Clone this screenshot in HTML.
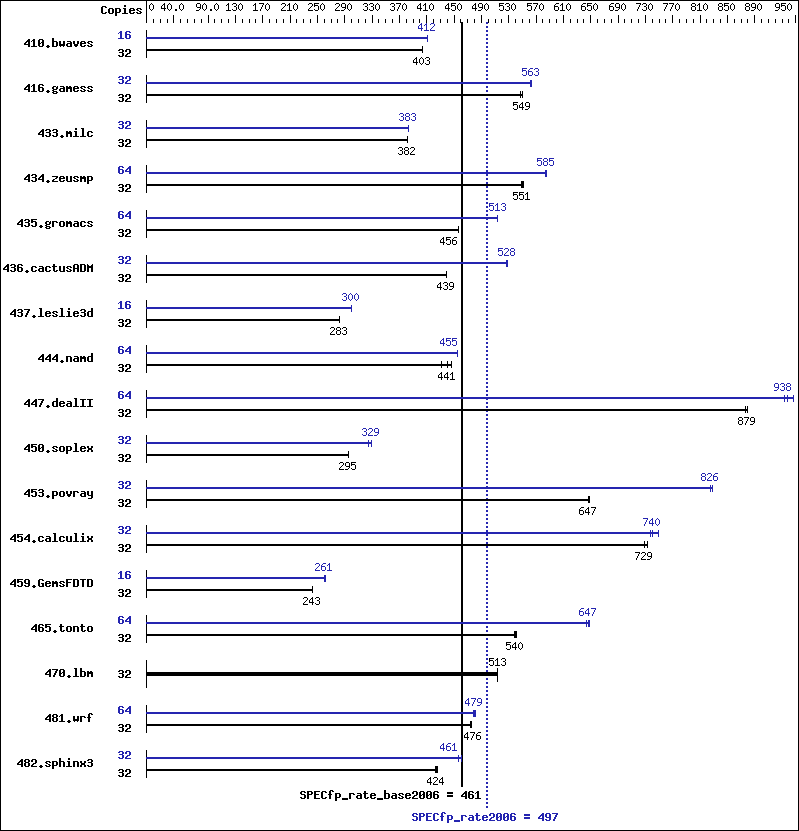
<!DOCTYPE html>
<html><head><meta charset="utf-8"><style>
html,body{margin:0;padding:0;background:#fff;width:799px;height:831px;overflow:hidden}
svg{display:block}
</style></head><body>
<svg width="799" height="831" viewBox="0 0 799 831" shape-rendering="crispEdges">
<defs>
<path id="b46" d="M2 9h2v1h-2zM1 10h4v1h-4zM2 11h2v1h-2z"/>
<path id="b48" d="M1 3h4v1h-4zM0 4h2v1h-2zM4 4h2v1h-2zM0 5h2v1h-2zM4 5h2v1h-2zM0 6h2v1h-2zM3 6h3v1h-3zM0 7h3v1h-3zM4 7h2v1h-2zM0 8h2v1h-2zM4 8h2v1h-2zM0 9h2v1h-2zM4 9h2v1h-2zM1 10h4v1h-4z"/>
<path id="b49" d="M2 3h2v1h-2zM1 4h3v1h-3zM0 5h1v1h-1zM2 5h2v1h-2zM2 6h2v1h-2zM2 7h2v1h-2zM2 8h2v1h-2zM2 9h2v1h-2zM0 10h6v1h-6z"/>
<path id="b50" d="M1 3h4v1h-4zM0 4h2v1h-2zM4 4h2v1h-2zM0 5h2v1h-2zM4 5h2v1h-2zM4 6h2v1h-2zM2 7h3v1h-3zM1 8h2v1h-2zM0 9h2v1h-2zM0 10h6v1h-6z"/>
<path id="b51" d="M1 3h4v1h-4zM0 4h2v1h-2zM4 4h2v1h-2zM4 5h2v1h-2zM1 6h4v1h-4zM4 7h2v1h-2zM4 8h2v1h-2zM0 9h2v1h-2zM4 9h2v1h-2zM1 10h4v1h-4z"/>
<path id="b52" d="M4 3h2v1h-2zM3 4h3v1h-3zM2 5h4v1h-4zM1 6h2v1h-2zM4 6h2v1h-2zM0 7h2v1h-2zM4 7h2v1h-2zM0 8h6v1h-6zM4 9h2v1h-2zM4 10h2v1h-2z"/>
<path id="b53" d="M0 3h6v1h-6zM0 4h2v1h-2zM0 5h5v1h-5zM0 6h2v1h-2zM4 6h2v1h-2zM4 7h2v1h-2zM4 8h2v1h-2zM0 9h2v1h-2zM4 9h2v1h-2zM1 10h4v1h-4z"/>
<path id="b54" d="M1 3h4v1h-4zM0 4h2v1h-2zM4 4h2v1h-2zM0 5h2v1h-2zM0 6h5v1h-5zM0 7h2v1h-2zM4 7h2v1h-2zM0 8h2v1h-2zM4 8h2v1h-2zM0 9h2v1h-2zM4 9h2v1h-2zM1 10h4v1h-4z"/>
<path id="b55" d="M0 3h6v1h-6zM4 4h2v1h-2zM3 5h2v1h-2zM3 6h2v1h-2zM2 7h2v1h-2zM2 8h2v1h-2zM1 9h2v1h-2zM1 10h2v1h-2z"/>
<path id="b56" d="M1 3h4v1h-4zM0 4h2v1h-2zM4 4h2v1h-2zM0 5h2v1h-2zM4 5h2v1h-2zM1 6h4v1h-4zM0 7h2v1h-2zM4 7h2v1h-2zM0 8h2v1h-2zM4 8h2v1h-2zM0 9h2v1h-2zM4 9h2v1h-2zM1 10h4v1h-4z"/>
<path id="b57" d="M1 3h4v1h-4zM0 4h2v1h-2zM4 4h2v1h-2zM0 5h2v1h-2zM4 5h2v1h-2zM0 6h2v1h-2zM4 6h2v1h-2zM1 7h5v1h-5zM4 8h2v1h-2zM0 9h2v1h-2zM4 9h2v1h-2zM1 10h4v1h-4z"/>
<path id="b61" d="M0 4h6v1h-6zM0 5h6v1h-6zM0 7h6v1h-6zM0 8h6v1h-6z"/>
<path id="b65" d="M1 3h4v1h-4zM0 4h2v1h-2zM4 4h2v1h-2zM0 5h2v1h-2zM4 5h2v1h-2zM0 6h2v1h-2zM4 6h2v1h-2zM0 7h6v1h-6zM0 8h2v1h-2zM4 8h2v1h-2zM0 9h2v1h-2zM4 9h2v1h-2zM0 10h2v1h-2zM4 10h2v1h-2z"/>
<path id="b67" d="M1 3h4v1h-4zM0 4h2v1h-2zM4 4h2v1h-2zM0 5h2v1h-2zM0 6h2v1h-2zM0 7h2v1h-2zM0 8h2v1h-2zM0 9h2v1h-2zM4 9h2v1h-2zM1 10h4v1h-4z"/>
<path id="b68" d="M0 3h5v1h-5zM0 4h2v1h-2zM4 4h2v1h-2zM0 5h2v1h-2zM4 5h2v1h-2zM0 6h2v1h-2zM4 6h2v1h-2zM0 7h2v1h-2zM4 7h2v1h-2zM0 8h2v1h-2zM4 8h2v1h-2zM0 9h2v1h-2zM4 9h2v1h-2zM0 10h5v1h-5z"/>
<path id="b69" d="M0 3h6v1h-6zM0 4h2v1h-2zM0 5h2v1h-2zM0 6h5v1h-5zM0 7h2v1h-2zM0 8h2v1h-2zM0 9h2v1h-2zM0 10h6v1h-6z"/>
<path id="b70" d="M0 3h6v1h-6zM0 4h2v1h-2zM0 5h2v1h-2zM0 6h5v1h-5zM0 7h2v1h-2zM0 8h2v1h-2zM0 9h2v1h-2zM0 10h2v1h-2z"/>
<path id="b71" d="M1 3h4v1h-4zM0 4h2v1h-2zM4 4h2v1h-2zM0 5h2v1h-2zM0 6h2v1h-2zM0 7h2v1h-2zM3 7h3v1h-3zM0 8h2v1h-2zM4 8h2v1h-2zM0 9h2v1h-2zM4 9h2v1h-2zM1 10h5v1h-5z"/>
<path id="b73" d="M0 3h6v1h-6zM2 4h2v1h-2zM2 5h2v1h-2zM2 6h2v1h-2zM2 7h2v1h-2zM2 8h2v1h-2zM2 9h2v1h-2zM0 10h6v1h-6z"/>
<path id="b77" d="M0 3h1v1h-1zM5 3h1v1h-1zM0 4h2v1h-2zM4 4h2v1h-2zM0 5h6v1h-6zM0 6h6v1h-6zM0 7h2v1h-2zM4 7h2v1h-2zM0 8h2v1h-2zM4 8h2v1h-2zM0 9h2v1h-2zM4 9h2v1h-2zM0 10h2v1h-2zM4 10h2v1h-2z"/>
<path id="b80" d="M0 3h5v1h-5zM0 4h2v1h-2zM4 4h2v1h-2zM0 5h2v1h-2zM4 5h2v1h-2zM0 6h5v1h-5zM0 7h2v1h-2zM0 8h2v1h-2zM0 9h2v1h-2zM0 10h2v1h-2z"/>
<path id="b83" d="M1 3h4v1h-4zM0 4h2v1h-2zM4 4h2v1h-2zM0 5h2v1h-2zM1 6h4v1h-4zM4 7h2v1h-2zM4 8h2v1h-2zM0 9h2v1h-2zM4 9h2v1h-2zM1 10h4v1h-4z"/>
<path id="b84" d="M0 3h6v1h-6zM2 4h2v1h-2zM2 5h2v1h-2zM2 6h2v1h-2zM2 7h2v1h-2zM2 8h2v1h-2zM2 9h2v1h-2zM2 10h2v1h-2z"/>
<path id="b95" d="M0 10h6v1h-6zM0 11h6v1h-6z"/>
<path id="b97" d="M1 5h4v1h-4zM4 6h2v1h-2zM1 7h5v1h-5zM0 8h2v1h-2zM4 8h2v1h-2zM0 9h2v1h-2zM4 9h2v1h-2zM1 10h5v1h-5z"/>
<path id="b98" d="M0 2h2v1h-2zM0 3h2v1h-2zM0 4h2v1h-2zM0 5h5v1h-5zM0 6h2v1h-2zM4 6h2v1h-2zM0 7h2v1h-2zM4 7h2v1h-2zM0 8h2v1h-2zM4 8h2v1h-2zM0 9h2v1h-2zM4 9h2v1h-2zM0 10h5v1h-5z"/>
<path id="b99" d="M1 5h4v1h-4zM0 6h2v1h-2zM4 6h2v1h-2zM0 7h2v1h-2zM0 8h2v1h-2zM0 9h2v1h-2zM4 9h2v1h-2zM1 10h4v1h-4z"/>
<path id="b100" d="M4 2h2v1h-2zM4 3h2v1h-2zM4 4h2v1h-2zM1 5h5v1h-5zM0 6h2v1h-2zM4 6h2v1h-2zM0 7h2v1h-2zM4 7h2v1h-2zM0 8h2v1h-2zM4 8h2v1h-2zM0 9h2v1h-2zM4 9h2v1h-2zM1 10h5v1h-5z"/>
<path id="b101" d="M1 5h4v1h-4zM0 6h2v1h-2zM4 6h2v1h-2zM0 7h6v1h-6zM0 8h2v1h-2zM0 9h2v1h-2zM4 9h2v1h-2zM1 10h4v1h-4z"/>
<path id="b102" d="M2 2h3v1h-3zM1 3h2v1h-2zM4 3h2v1h-2zM1 4h2v1h-2zM1 5h2v1h-2zM0 6h4v1h-4zM1 7h2v1h-2zM1 8h2v1h-2zM1 9h2v1h-2zM1 10h2v1h-2z"/>
<path id="b103" d="M1 5h3v1h-3zM5 5h1v1h-1zM0 6h2v1h-2zM4 6h2v1h-2zM0 7h2v1h-2zM4 7h2v1h-2zM1 8h4v1h-4zM0 9h2v1h-2zM1 10h4v1h-4zM0 11h2v1h-2zM4 11h2v1h-2zM1 12h4v1h-4z"/>
<path id="b104" d="M0 2h2v1h-2zM0 3h2v1h-2zM0 4h2v1h-2zM0 5h5v1h-5zM0 6h2v1h-2zM4 6h2v1h-2zM0 7h2v1h-2zM4 7h2v1h-2zM0 8h2v1h-2zM4 8h2v1h-2zM0 9h2v1h-2zM4 9h2v1h-2zM0 10h2v1h-2zM4 10h2v1h-2z"/>
<path id="b105" d="M2 2h2v1h-2zM2 3h2v1h-2zM1 5h3v1h-3zM2 6h2v1h-2zM2 7h2v1h-2zM2 8h2v1h-2zM2 9h2v1h-2zM0 10h6v1h-6z"/>
<path id="b108" d="M1 2h3v1h-3zM2 3h2v1h-2zM2 4h2v1h-2zM2 5h2v1h-2zM2 6h2v1h-2zM2 7h2v1h-2zM2 8h2v1h-2zM2 9h2v1h-2zM0 10h6v1h-6z"/>
<path id="b109" d="M0 5h2v1h-2zM3 5h2v1h-2zM0 6h6v1h-6zM0 7h6v1h-6zM0 8h2v1h-2zM4 8h2v1h-2zM0 9h2v1h-2zM4 9h2v1h-2zM0 10h2v1h-2zM4 10h2v1h-2z"/>
<path id="b110" d="M0 5h5v1h-5zM0 6h2v1h-2zM4 6h2v1h-2zM0 7h2v1h-2zM4 7h2v1h-2zM0 8h2v1h-2zM4 8h2v1h-2zM0 9h2v1h-2zM4 9h2v1h-2zM0 10h2v1h-2zM4 10h2v1h-2z"/>
<path id="b111" d="M1 5h4v1h-4zM0 6h2v1h-2zM4 6h2v1h-2zM0 7h2v1h-2zM4 7h2v1h-2zM0 8h2v1h-2zM4 8h2v1h-2zM0 9h2v1h-2zM4 9h2v1h-2zM1 10h4v1h-4z"/>
<path id="b112" d="M0 5h5v1h-5zM0 6h2v1h-2zM4 6h2v1h-2zM0 7h2v1h-2zM4 7h2v1h-2zM0 8h2v1h-2zM4 8h2v1h-2zM0 9h5v1h-5zM0 10h2v1h-2zM0 11h2v1h-2zM0 12h2v1h-2z"/>
<path id="b114" d="M0 5h5v1h-5zM0 6h2v1h-2zM4 6h2v1h-2zM0 7h2v1h-2zM0 8h2v1h-2zM0 9h2v1h-2zM0 10h2v1h-2z"/>
<path id="b115" d="M1 5h4v1h-4zM0 6h2v1h-2zM4 6h2v1h-2zM1 7h2v1h-2zM3 8h2v1h-2zM0 9h2v1h-2zM4 9h2v1h-2zM1 10h4v1h-4z"/>
<path id="b116" d="M1 3h2v1h-2zM1 4h2v1h-2zM0 5h5v1h-5zM1 6h2v1h-2zM1 7h2v1h-2zM1 8h2v1h-2zM1 9h2v1h-2zM4 9h2v1h-2zM2 10h3v1h-3z"/>
<path id="b117" d="M0 5h2v1h-2zM4 5h2v1h-2zM0 6h2v1h-2zM4 6h2v1h-2zM0 7h2v1h-2zM4 7h2v1h-2zM0 8h2v1h-2zM4 8h2v1h-2zM0 9h2v1h-2zM4 9h2v1h-2zM1 10h5v1h-5z"/>
<path id="b118" d="M0 5h2v1h-2zM4 5h2v1h-2zM0 6h2v1h-2zM4 6h2v1h-2zM0 7h2v1h-2zM4 7h2v1h-2zM1 8h4v1h-4zM1 9h4v1h-4zM2 10h2v1h-2z"/>
<path id="b119" d="M0 5h2v1h-2zM4 5h2v1h-2zM0 6h2v1h-2zM4 6h2v1h-2zM0 7h2v1h-2zM4 7h2v1h-2zM0 8h6v1h-6zM0 9h6v1h-6zM1 10h1v1h-1zM4 10h1v1h-1z"/>
<path id="b120" d="M0 5h2v1h-2zM4 5h2v1h-2zM0 6h2v1h-2zM4 6h2v1h-2zM1 7h4v1h-4zM1 8h4v1h-4zM0 9h2v1h-2zM4 9h2v1h-2zM0 10h2v1h-2zM4 10h2v1h-2z"/>
<path id="b121" d="M0 5h2v1h-2zM4 5h2v1h-2zM0 6h2v1h-2zM4 6h2v1h-2zM0 7h2v1h-2zM4 7h2v1h-2zM0 8h2v1h-2zM4 8h2v1h-2zM1 9h5v1h-5zM4 10h2v1h-2zM4 11h2v1h-2zM1 12h4v1h-4z"/>
<path id="b122" d="M0 5h6v1h-6zM4 6h2v1h-2zM3 7h2v1h-2zM1 8h2v1h-2zM0 9h2v1h-2zM0 10h6v1h-6z"/>
<path id="s46" d="M2 9h2v1h-2zM2 10h2v1h-2z"/>
<path id="s48" d="M2 3h1v1h-1zM1 4h1v1h-1zM3 4h1v1h-1zM0 5h1v1h-1zM4 5h1v1h-1zM0 6h1v1h-1zM4 6h1v1h-1zM0 7h1v1h-1zM4 7h1v1h-1zM0 8h1v1h-1zM4 8h1v1h-1zM1 9h1v1h-1zM3 9h1v1h-1zM2 10h1v1h-1z"/>
<path id="s49" d="M2 3h1v1h-1zM1 4h2v1h-2zM0 5h1v1h-1zM2 5h1v1h-1zM2 6h1v1h-1zM2 7h1v1h-1zM2 8h1v1h-1zM2 9h1v1h-1zM0 10h5v1h-5z"/>
<path id="s50" d="M1 3h3v1h-3zM0 4h1v1h-1zM4 4h1v1h-1zM4 5h1v1h-1zM3 6h1v1h-1zM2 7h1v1h-1zM1 8h1v1h-1zM0 9h1v1h-1zM0 10h5v1h-5z"/>
<path id="s51" d="M1 3h3v1h-3zM0 4h1v1h-1zM4 4h1v1h-1zM4 5h1v1h-1zM2 6h2v1h-2zM4 7h1v1h-1zM4 8h1v1h-1zM0 9h1v1h-1zM4 9h1v1h-1zM1 10h3v1h-3z"/>
<path id="s52" d="M3 3h1v1h-1zM2 4h2v1h-2zM1 5h1v1h-1zM3 5h1v1h-1zM0 6h1v1h-1zM3 6h1v1h-1zM0 7h1v1h-1zM3 7h1v1h-1zM0 8h5v1h-5zM3 9h1v1h-1zM3 10h1v1h-1z"/>
<path id="s53" d="M0 3h5v1h-5zM0 4h1v1h-1zM0 5h4v1h-4zM0 6h1v1h-1zM4 6h1v1h-1zM4 7h1v1h-1zM4 8h1v1h-1zM0 9h1v1h-1zM4 9h1v1h-1zM1 10h3v1h-3z"/>
<path id="s54" d="M2 3h3v1h-3zM1 4h1v1h-1zM0 5h1v1h-1zM0 6h4v1h-4zM0 7h1v1h-1zM4 7h1v1h-1zM0 8h1v1h-1zM4 8h1v1h-1zM0 9h1v1h-1zM4 9h1v1h-1zM1 10h3v1h-3z"/>
<path id="s55" d="M0 3h5v1h-5zM4 4h1v1h-1zM3 5h1v1h-1zM3 6h1v1h-1zM2 7h1v1h-1zM2 8h1v1h-1zM1 9h1v1h-1zM1 10h1v1h-1z"/>
<path id="s56" d="M1 3h3v1h-3zM0 4h1v1h-1zM4 4h1v1h-1zM0 5h1v1h-1zM4 5h1v1h-1zM1 6h3v1h-3zM0 7h1v1h-1zM4 7h1v1h-1zM0 8h1v1h-1zM4 8h1v1h-1zM0 9h1v1h-1zM4 9h1v1h-1zM1 10h3v1h-3z"/>
<path id="s57" d="M1 3h3v1h-3zM0 4h1v1h-1zM4 4h1v1h-1zM0 5h1v1h-1zM4 5h1v1h-1zM0 6h1v1h-1zM4 6h1v1h-1zM1 7h4v1h-4zM4 8h1v1h-1zM3 9h1v1h-1zM0 10h3v1h-3z"/>
</defs>
<rect x="0" y="0" width="799" height="1"/>
<rect x="0" y="830" width="799" height="1"/>
<rect x="0" y="0" width="1" height="831"/>
<rect x="798" y="0" width="1" height="831"/>
<rect x="146" y="0" width="1" height="23"/>
<rect x="153" y="19" width="1" height="4"/>
<rect x="160" y="19" width="1" height="4"/>
<rect x="167" y="19" width="1" height="4"/>
<rect x="173" y="15" width="1" height="8"/>
<rect x="180" y="19" width="1" height="4"/>
<rect x="187" y="19" width="1" height="4"/>
<rect x="194" y="19" width="1" height="4"/>
<rect x="201" y="19" width="1" height="4"/>
<rect x="208" y="15" width="1" height="8"/>
<rect x="214" y="19" width="1" height="4"/>
<rect x="221" y="19" width="1" height="4"/>
<rect x="228" y="19" width="1" height="4"/>
<rect x="235" y="15" width="1" height="8"/>
<rect x="242" y="19" width="1" height="4"/>
<rect x="249" y="19" width="1" height="4"/>
<rect x="255" y="19" width="1" height="4"/>
<rect x="262" y="15" width="1" height="8"/>
<rect x="269" y="19" width="1" height="4"/>
<rect x="276" y="19" width="1" height="4"/>
<rect x="283" y="19" width="1" height="4"/>
<rect x="290" y="15" width="1" height="8"/>
<rect x="296" y="19" width="1" height="4"/>
<rect x="303" y="19" width="1" height="4"/>
<rect x="310" y="19" width="1" height="4"/>
<rect x="317" y="15" width="1" height="8"/>
<rect x="324" y="19" width="1" height="4"/>
<rect x="331" y="19" width="1" height="4"/>
<rect x="337" y="19" width="1" height="4"/>
<rect x="344" y="15" width="1" height="8"/>
<rect x="351" y="19" width="1" height="4"/>
<rect x="358" y="19" width="1" height="4"/>
<rect x="365" y="19" width="1" height="4"/>
<rect x="372" y="15" width="1" height="8"/>
<rect x="378" y="19" width="1" height="4"/>
<rect x="385" y="19" width="1" height="4"/>
<rect x="392" y="19" width="1" height="4"/>
<rect x="399" y="15" width="1" height="8"/>
<rect x="406" y="19" width="1" height="4"/>
<rect x="413" y="19" width="1" height="4"/>
<rect x="419" y="19" width="1" height="4"/>
<rect x="426" y="15" width="1" height="8"/>
<rect x="433" y="19" width="1" height="4"/>
<rect x="440" y="19" width="1" height="4"/>
<rect x="447" y="19" width="1" height="4"/>
<rect x="454" y="15" width="1" height="8"/>
<rect x="460" y="19" width="1" height="4"/>
<rect x="467" y="19" width="1" height="4"/>
<rect x="474" y="19" width="1" height="4"/>
<rect x="481" y="15" width="1" height="8"/>
<rect x="488" y="19" width="1" height="4"/>
<rect x="495" y="19" width="1" height="4"/>
<rect x="501" y="19" width="1" height="4"/>
<rect x="508" y="15" width="1" height="8"/>
<rect x="515" y="19" width="1" height="4"/>
<rect x="522" y="19" width="1" height="4"/>
<rect x="529" y="19" width="1" height="4"/>
<rect x="536" y="15" width="1" height="8"/>
<rect x="542" y="19" width="1" height="4"/>
<rect x="549" y="19" width="1" height="4"/>
<rect x="556" y="19" width="1" height="4"/>
<rect x="563" y="15" width="1" height="8"/>
<rect x="570" y="19" width="1" height="4"/>
<rect x="577" y="19" width="1" height="4"/>
<rect x="583" y="19" width="1" height="4"/>
<rect x="590" y="15" width="1" height="8"/>
<rect x="597" y="19" width="1" height="4"/>
<rect x="604" y="19" width="1" height="4"/>
<rect x="611" y="19" width="1" height="4"/>
<rect x="618" y="15" width="1" height="8"/>
<rect x="624" y="19" width="1" height="4"/>
<rect x="631" y="19" width="1" height="4"/>
<rect x="638" y="19" width="1" height="4"/>
<rect x="645" y="15" width="1" height="8"/>
<rect x="652" y="19" width="1" height="4"/>
<rect x="659" y="19" width="1" height="4"/>
<rect x="665" y="19" width="1" height="4"/>
<rect x="672" y="15" width="1" height="8"/>
<rect x="679" y="19" width="1" height="4"/>
<rect x="686" y="19" width="1" height="4"/>
<rect x="693" y="19" width="1" height="4"/>
<rect x="700" y="15" width="1" height="8"/>
<rect x="706" y="19" width="1" height="4"/>
<rect x="713" y="19" width="1" height="4"/>
<rect x="720" y="19" width="1" height="4"/>
<rect x="727" y="15" width="1" height="8"/>
<rect x="734" y="19" width="1" height="4"/>
<rect x="741" y="19" width="1" height="4"/>
<rect x="747" y="19" width="1" height="4"/>
<rect x="754" y="15" width="1" height="8"/>
<rect x="761" y="19" width="1" height="4"/>
<rect x="768" y="19" width="1" height="4"/>
<rect x="775" y="19" width="1" height="4"/>
<rect x="782" y="19" width="1" height="4"/>
<rect x="788" y="19" width="1" height="4"/>
<rect x="795" y="15" width="1" height="8"/>
<rect x="486" y="22" width="2" height="2" fill="#2525b0"/>
<rect x="486" y="26" width="2" height="2" fill="#2525b0"/>
<rect x="486" y="30" width="2" height="2" fill="#2525b0"/>
<rect x="486" y="34" width="2" height="2" fill="#2525b0"/>
<rect x="486" y="38" width="2" height="2" fill="#2525b0"/>
<rect x="486" y="42" width="2" height="2" fill="#2525b0"/>
<rect x="486" y="46" width="2" height="2" fill="#2525b0"/>
<rect x="486" y="50" width="2" height="2" fill="#2525b0"/>
<rect x="486" y="54" width="2" height="2" fill="#2525b0"/>
<rect x="486" y="58" width="2" height="2" fill="#2525b0"/>
<rect x="486" y="62" width="2" height="2" fill="#2525b0"/>
<rect x="486" y="66" width="2" height="2" fill="#2525b0"/>
<rect x="486" y="70" width="2" height="2" fill="#2525b0"/>
<rect x="486" y="74" width="2" height="2" fill="#2525b0"/>
<rect x="486" y="78" width="2" height="2" fill="#2525b0"/>
<rect x="486" y="82" width="2" height="2" fill="#2525b0"/>
<rect x="486" y="86" width="2" height="2" fill="#2525b0"/>
<rect x="486" y="90" width="2" height="2" fill="#2525b0"/>
<rect x="486" y="94" width="2" height="2" fill="#2525b0"/>
<rect x="486" y="98" width="2" height="2" fill="#2525b0"/>
<rect x="486" y="102" width="2" height="2" fill="#2525b0"/>
<rect x="486" y="106" width="2" height="2" fill="#2525b0"/>
<rect x="486" y="110" width="2" height="2" fill="#2525b0"/>
<rect x="486" y="114" width="2" height="2" fill="#2525b0"/>
<rect x="486" y="118" width="2" height="2" fill="#2525b0"/>
<rect x="486" y="122" width="2" height="2" fill="#2525b0"/>
<rect x="486" y="126" width="2" height="2" fill="#2525b0"/>
<rect x="486" y="130" width="2" height="2" fill="#2525b0"/>
<rect x="486" y="134" width="2" height="2" fill="#2525b0"/>
<rect x="486" y="138" width="2" height="2" fill="#2525b0"/>
<rect x="486" y="142" width="2" height="2" fill="#2525b0"/>
<rect x="486" y="146" width="2" height="2" fill="#2525b0"/>
<rect x="486" y="150" width="2" height="2" fill="#2525b0"/>
<rect x="486" y="154" width="2" height="2" fill="#2525b0"/>
<rect x="486" y="158" width="2" height="2" fill="#2525b0"/>
<rect x="486" y="162" width="2" height="2" fill="#2525b0"/>
<rect x="486" y="166" width="2" height="2" fill="#2525b0"/>
<rect x="486" y="170" width="2" height="2" fill="#2525b0"/>
<rect x="486" y="174" width="2" height="2" fill="#2525b0"/>
<rect x="486" y="178" width="2" height="2" fill="#2525b0"/>
<rect x="486" y="182" width="2" height="2" fill="#2525b0"/>
<rect x="486" y="186" width="2" height="2" fill="#2525b0"/>
<rect x="486" y="190" width="2" height="2" fill="#2525b0"/>
<rect x="486" y="194" width="2" height="2" fill="#2525b0"/>
<rect x="486" y="198" width="2" height="2" fill="#2525b0"/>
<rect x="486" y="202" width="2" height="2" fill="#2525b0"/>
<rect x="486" y="206" width="2" height="2" fill="#2525b0"/>
<rect x="486" y="210" width="2" height="2" fill="#2525b0"/>
<rect x="486" y="214" width="2" height="2" fill="#2525b0"/>
<rect x="486" y="218" width="2" height="2" fill="#2525b0"/>
<rect x="486" y="222" width="2" height="2" fill="#2525b0"/>
<rect x="486" y="226" width="2" height="2" fill="#2525b0"/>
<rect x="486" y="230" width="2" height="2" fill="#2525b0"/>
<rect x="486" y="234" width="2" height="2" fill="#2525b0"/>
<rect x="486" y="238" width="2" height="2" fill="#2525b0"/>
<rect x="486" y="242" width="2" height="2" fill="#2525b0"/>
<rect x="486" y="246" width="2" height="2" fill="#2525b0"/>
<rect x="486" y="250" width="2" height="2" fill="#2525b0"/>
<rect x="486" y="254" width="2" height="2" fill="#2525b0"/>
<rect x="486" y="258" width="2" height="2" fill="#2525b0"/>
<rect x="486" y="262" width="2" height="2" fill="#2525b0"/>
<rect x="486" y="266" width="2" height="2" fill="#2525b0"/>
<rect x="486" y="270" width="2" height="2" fill="#2525b0"/>
<rect x="486" y="274" width="2" height="2" fill="#2525b0"/>
<rect x="486" y="278" width="2" height="2" fill="#2525b0"/>
<rect x="486" y="282" width="2" height="2" fill="#2525b0"/>
<rect x="486" y="286" width="2" height="2" fill="#2525b0"/>
<rect x="486" y="290" width="2" height="2" fill="#2525b0"/>
<rect x="486" y="294" width="2" height="2" fill="#2525b0"/>
<rect x="486" y="298" width="2" height="2" fill="#2525b0"/>
<rect x="486" y="302" width="2" height="2" fill="#2525b0"/>
<rect x="486" y="306" width="2" height="2" fill="#2525b0"/>
<rect x="486" y="310" width="2" height="2" fill="#2525b0"/>
<rect x="486" y="314" width="2" height="2" fill="#2525b0"/>
<rect x="486" y="318" width="2" height="2" fill="#2525b0"/>
<rect x="486" y="322" width="2" height="2" fill="#2525b0"/>
<rect x="486" y="326" width="2" height="2" fill="#2525b0"/>
<rect x="486" y="330" width="2" height="2" fill="#2525b0"/>
<rect x="486" y="334" width="2" height="2" fill="#2525b0"/>
<rect x="486" y="338" width="2" height="2" fill="#2525b0"/>
<rect x="486" y="342" width="2" height="2" fill="#2525b0"/>
<rect x="486" y="346" width="2" height="2" fill="#2525b0"/>
<rect x="486" y="350" width="2" height="2" fill="#2525b0"/>
<rect x="486" y="354" width="2" height="2" fill="#2525b0"/>
<rect x="486" y="358" width="2" height="2" fill="#2525b0"/>
<rect x="486" y="362" width="2" height="2" fill="#2525b0"/>
<rect x="486" y="366" width="2" height="2" fill="#2525b0"/>
<rect x="486" y="370" width="2" height="2" fill="#2525b0"/>
<rect x="486" y="374" width="2" height="2" fill="#2525b0"/>
<rect x="486" y="378" width="2" height="2" fill="#2525b0"/>
<rect x="486" y="382" width="2" height="2" fill="#2525b0"/>
<rect x="486" y="386" width="2" height="2" fill="#2525b0"/>
<rect x="486" y="390" width="2" height="2" fill="#2525b0"/>
<rect x="486" y="394" width="2" height="2" fill="#2525b0"/>
<rect x="486" y="398" width="2" height="2" fill="#2525b0"/>
<rect x="486" y="402" width="2" height="2" fill="#2525b0"/>
<rect x="486" y="406" width="2" height="2" fill="#2525b0"/>
<rect x="486" y="410" width="2" height="2" fill="#2525b0"/>
<rect x="486" y="414" width="2" height="2" fill="#2525b0"/>
<rect x="486" y="418" width="2" height="2" fill="#2525b0"/>
<rect x="486" y="422" width="2" height="2" fill="#2525b0"/>
<rect x="486" y="426" width="2" height="2" fill="#2525b0"/>
<rect x="486" y="430" width="2" height="2" fill="#2525b0"/>
<rect x="486" y="434" width="2" height="2" fill="#2525b0"/>
<rect x="486" y="438" width="2" height="2" fill="#2525b0"/>
<rect x="486" y="442" width="2" height="2" fill="#2525b0"/>
<rect x="486" y="446" width="2" height="2" fill="#2525b0"/>
<rect x="486" y="450" width="2" height="2" fill="#2525b0"/>
<rect x="486" y="454" width="2" height="2" fill="#2525b0"/>
<rect x="486" y="458" width="2" height="2" fill="#2525b0"/>
<rect x="486" y="462" width="2" height="2" fill="#2525b0"/>
<rect x="486" y="466" width="2" height="2" fill="#2525b0"/>
<rect x="486" y="470" width="2" height="2" fill="#2525b0"/>
<rect x="486" y="474" width="2" height="2" fill="#2525b0"/>
<rect x="486" y="478" width="2" height="2" fill="#2525b0"/>
<rect x="486" y="482" width="2" height="2" fill="#2525b0"/>
<rect x="486" y="486" width="2" height="2" fill="#2525b0"/>
<rect x="486" y="490" width="2" height="2" fill="#2525b0"/>
<rect x="486" y="494" width="2" height="2" fill="#2525b0"/>
<rect x="486" y="498" width="2" height="2" fill="#2525b0"/>
<rect x="486" y="502" width="2" height="2" fill="#2525b0"/>
<rect x="486" y="506" width="2" height="2" fill="#2525b0"/>
<rect x="486" y="510" width="2" height="2" fill="#2525b0"/>
<rect x="486" y="514" width="2" height="2" fill="#2525b0"/>
<rect x="486" y="518" width="2" height="2" fill="#2525b0"/>
<rect x="486" y="522" width="2" height="2" fill="#2525b0"/>
<rect x="486" y="526" width="2" height="2" fill="#2525b0"/>
<rect x="486" y="530" width="2" height="2" fill="#2525b0"/>
<rect x="486" y="534" width="2" height="2" fill="#2525b0"/>
<rect x="486" y="538" width="2" height="2" fill="#2525b0"/>
<rect x="486" y="542" width="2" height="2" fill="#2525b0"/>
<rect x="486" y="546" width="2" height="2" fill="#2525b0"/>
<rect x="486" y="550" width="2" height="2" fill="#2525b0"/>
<rect x="486" y="554" width="2" height="2" fill="#2525b0"/>
<rect x="486" y="558" width="2" height="2" fill="#2525b0"/>
<rect x="486" y="562" width="2" height="2" fill="#2525b0"/>
<rect x="486" y="566" width="2" height="2" fill="#2525b0"/>
<rect x="486" y="570" width="2" height="2" fill="#2525b0"/>
<rect x="486" y="574" width="2" height="2" fill="#2525b0"/>
<rect x="486" y="578" width="2" height="2" fill="#2525b0"/>
<rect x="486" y="582" width="2" height="2" fill="#2525b0"/>
<rect x="486" y="586" width="2" height="2" fill="#2525b0"/>
<rect x="486" y="590" width="2" height="2" fill="#2525b0"/>
<rect x="486" y="594" width="2" height="2" fill="#2525b0"/>
<rect x="486" y="598" width="2" height="2" fill="#2525b0"/>
<rect x="486" y="602" width="2" height="2" fill="#2525b0"/>
<rect x="486" y="606" width="2" height="2" fill="#2525b0"/>
<rect x="486" y="610" width="2" height="2" fill="#2525b0"/>
<rect x="486" y="614" width="2" height="2" fill="#2525b0"/>
<rect x="486" y="618" width="2" height="2" fill="#2525b0"/>
<rect x="486" y="622" width="2" height="2" fill="#2525b0"/>
<rect x="486" y="626" width="2" height="2" fill="#2525b0"/>
<rect x="486" y="630" width="2" height="2" fill="#2525b0"/>
<rect x="486" y="634" width="2" height="2" fill="#2525b0"/>
<rect x="486" y="638" width="2" height="2" fill="#2525b0"/>
<rect x="486" y="642" width="2" height="2" fill="#2525b0"/>
<rect x="486" y="646" width="2" height="2" fill="#2525b0"/>
<rect x="486" y="650" width="2" height="2" fill="#2525b0"/>
<rect x="486" y="654" width="2" height="2" fill="#2525b0"/>
<rect x="486" y="658" width="2" height="2" fill="#2525b0"/>
<rect x="486" y="662" width="2" height="2" fill="#2525b0"/>
<rect x="486" y="666" width="2" height="2" fill="#2525b0"/>
<rect x="486" y="670" width="2" height="2" fill="#2525b0"/>
<rect x="486" y="674" width="2" height="2" fill="#2525b0"/>
<rect x="486" y="678" width="2" height="2" fill="#2525b0"/>
<rect x="486" y="682" width="2" height="2" fill="#2525b0"/>
<rect x="486" y="686" width="2" height="2" fill="#2525b0"/>
<rect x="486" y="690" width="2" height="2" fill="#2525b0"/>
<rect x="486" y="694" width="2" height="2" fill="#2525b0"/>
<rect x="486" y="698" width="2" height="2" fill="#2525b0"/>
<rect x="486" y="702" width="2" height="2" fill="#2525b0"/>
<rect x="486" y="706" width="2" height="2" fill="#2525b0"/>
<rect x="486" y="710" width="2" height="2" fill="#2525b0"/>
<rect x="486" y="714" width="2" height="2" fill="#2525b0"/>
<rect x="486" y="718" width="2" height="2" fill="#2525b0"/>
<rect x="486" y="722" width="2" height="2" fill="#2525b0"/>
<rect x="486" y="726" width="2" height="2" fill="#2525b0"/>
<rect x="486" y="730" width="2" height="2" fill="#2525b0"/>
<rect x="486" y="734" width="2" height="2" fill="#2525b0"/>
<rect x="486" y="738" width="2" height="2" fill="#2525b0"/>
<rect x="486" y="742" width="2" height="2" fill="#2525b0"/>
<rect x="486" y="746" width="2" height="2" fill="#2525b0"/>
<rect x="486" y="750" width="2" height="2" fill="#2525b0"/>
<rect x="486" y="754" width="2" height="2" fill="#2525b0"/>
<rect x="486" y="758" width="2" height="2" fill="#2525b0"/>
<rect x="486" y="762" width="2" height="2" fill="#2525b0"/>
<rect x="486" y="766" width="2" height="2" fill="#2525b0"/>
<rect x="486" y="770" width="2" height="2" fill="#2525b0"/>
<rect x="486" y="774" width="2" height="2" fill="#2525b0"/>
<rect x="486" y="778" width="2" height="2" fill="#2525b0"/>
<rect x="486" y="782" width="2" height="2" fill="#2525b0"/>
<rect x="486" y="786" width="2" height="2" fill="#2525b0"/>
<rect x="486" y="790" width="2" height="2" fill="#2525b0"/>
<rect x="486" y="794" width="2" height="2" fill="#2525b0"/>
<rect x="486" y="798" width="2" height="2" fill="#2525b0"/>
<rect x="486" y="802" width="2" height="2" fill="#2525b0"/>
<rect x="486" y="806" width="2" height="2" fill="#2525b0"/>
<rect x="461" y="22" width="2" height="765"/>
<rect x="146" y="30" width="1" height="28"/>
<rect x="146" y="49" width="277" height="2"/>
<rect x="422" y="46" width="1" height="7"/>
<rect x="146" y="37" width="282" height="2" fill="#2525b0"/>
<rect x="427" y="35" width="1" height="7" fill="#2525b0"/>
<rect x="146" y="75" width="1" height="28"/>
<rect x="146" y="94" width="377" height="2"/>
<rect x="520" y="91" width="1" height="7"/>
<rect x="522" y="91" width="1" height="7"/>
<rect x="146" y="82" width="386" height="2" fill="#2525b0"/>
<rect x="530" y="80" width="1" height="7" fill="#2525b0"/>
<rect x="531" y="80" width="1" height="7" fill="#2525b0"/>
<rect x="146" y="120" width="1" height="28"/>
<rect x="146" y="139" width="262" height="2"/>
<rect x="407" y="136" width="1" height="7"/>
<rect x="146" y="127" width="263" height="2" fill="#2525b0"/>
<rect x="408" y="125" width="1" height="7" fill="#2525b0"/>
<rect x="146" y="165" width="1" height="28"/>
<rect x="146" y="184" width="378" height="2"/>
<rect x="521" y="181" width="1" height="7"/>
<rect x="522" y="181" width="1" height="7"/>
<rect x="523" y="181" width="1" height="7"/>
<rect x="146" y="172" width="401" height="2" fill="#2525b0"/>
<rect x="545" y="170" width="1" height="7" fill="#2525b0"/>
<rect x="546" y="170" width="1" height="7" fill="#2525b0"/>
<rect x="146" y="210" width="1" height="28"/>
<rect x="146" y="229" width="313" height="2"/>
<rect x="458" y="226" width="1" height="7"/>
<rect x="146" y="217" width="352" height="2" fill="#2525b0"/>
<rect x="497" y="215" width="1" height="7" fill="#2525b0"/>
<rect x="146" y="255" width="1" height="28"/>
<rect x="146" y="274" width="301" height="2"/>
<rect x="446" y="271" width="1" height="7"/>
<rect x="146" y="262" width="362" height="2" fill="#2525b0"/>
<rect x="506" y="260" width="1" height="7" fill="#2525b0"/>
<rect x="507" y="260" width="1" height="7" fill="#2525b0"/>
<rect x="146" y="300" width="1" height="28"/>
<rect x="146" y="319" width="194" height="2"/>
<rect x="339" y="316" width="1" height="7"/>
<rect x="146" y="307" width="206" height="2" fill="#2525b0"/>
<rect x="351" y="305" width="1" height="7" fill="#2525b0"/>
<rect x="146" y="345" width="1" height="28"/>
<rect x="146" y="364" width="306" height="2"/>
<rect x="441" y="361" width="1" height="7"/>
<rect x="447" y="361" width="1" height="7"/>
<rect x="451" y="361" width="1" height="7"/>
<rect x="146" y="352" width="312" height="2" fill="#2525b0"/>
<rect x="457" y="350" width="1" height="7" fill="#2525b0"/>
<rect x="146" y="390" width="1" height="28"/>
<rect x="146" y="409" width="602" height="2"/>
<rect x="745" y="406" width="1" height="7"/>
<rect x="747" y="406" width="1" height="7"/>
<rect x="146" y="397" width="648" height="2" fill="#2525b0"/>
<rect x="784" y="395" width="1" height="7" fill="#2525b0"/>
<rect x="787" y="395" width="1" height="7" fill="#2525b0"/>
<rect x="793" y="395" width="1" height="7" fill="#2525b0"/>
<rect x="146" y="435" width="1" height="28"/>
<rect x="146" y="454" width="203" height="2"/>
<rect x="348" y="451" width="1" height="7"/>
<rect x="146" y="442" width="226" height="2" fill="#2525b0"/>
<rect x="368" y="440" width="1" height="7" fill="#2525b0"/>
<rect x="371" y="440" width="1" height="7" fill="#2525b0"/>
<rect x="146" y="480" width="1" height="28"/>
<rect x="146" y="499" width="444" height="2"/>
<rect x="588" y="496" width="1" height="7"/>
<rect x="589" y="496" width="1" height="7"/>
<rect x="146" y="487" width="567" height="2" fill="#2525b0"/>
<rect x="710" y="485" width="1" height="7" fill="#2525b0"/>
<rect x="712" y="485" width="1" height="7" fill="#2525b0"/>
<rect x="146" y="525" width="1" height="28"/>
<rect x="146" y="544" width="502" height="2"/>
<rect x="644" y="541" width="1" height="7"/>
<rect x="647" y="541" width="1" height="7"/>
<rect x="146" y="532" width="513" height="2" fill="#2525b0"/>
<rect x="650" y="530" width="1" height="7" fill="#2525b0"/>
<rect x="652" y="530" width="1" height="7" fill="#2525b0"/>
<rect x="658" y="530" width="1" height="7" fill="#2525b0"/>
<rect x="146" y="570" width="1" height="28"/>
<rect x="146" y="589" width="167" height="2"/>
<rect x="312" y="586" width="1" height="7"/>
<rect x="146" y="577" width="180" height="2" fill="#2525b0"/>
<rect x="324" y="575" width="1" height="7" fill="#2525b0"/>
<rect x="325" y="575" width="1" height="7" fill="#2525b0"/>
<rect x="146" y="615" width="1" height="28"/>
<rect x="146" y="634" width="371" height="2"/>
<rect x="514" y="631" width="1" height="7"/>
<rect x="515" y="631" width="1" height="7"/>
<rect x="516" y="631" width="1" height="7"/>
<rect x="146" y="622" width="444" height="2" fill="#2525b0"/>
<rect x="586" y="620" width="1" height="7" fill="#2525b0"/>
<rect x="588" y="620" width="1" height="7" fill="#2525b0"/>
<rect x="589" y="620" width="1" height="7" fill="#2525b0"/>
<rect x="146" y="660" width="1" height="28"/>
<rect x="146" y="672" width="352" height="4"/>
<rect x="497" y="668" width="1" height="14"/>
<rect x="146" y="705" width="1" height="28"/>
<rect x="146" y="724" width="326" height="2"/>
<rect x="470" y="721" width="1" height="7"/>
<rect x="471" y="721" width="1" height="7"/>
<rect x="146" y="712" width="330" height="2" fill="#2525b0"/>
<rect x="473" y="710" width="1" height="7" fill="#2525b0"/>
<rect x="474" y="710" width="1" height="7" fill="#2525b0"/>
<rect x="475" y="710" width="1" height="7" fill="#2525b0"/>
<rect x="146" y="750" width="1" height="28"/>
<rect x="146" y="769" width="292" height="2"/>
<rect x="435" y="766" width="1" height="7"/>
<rect x="436" y="766" width="1" height="7"/>
<rect x="437" y="766" width="1" height="7"/>
<rect x="146" y="757" width="316" height="2" fill="#2525b0"/>
<rect x="458" y="755" width="1" height="7" fill="#2525b0"/>
<rect x="461" y="755" width="1" height="7" fill="#2525b0"/>
<use href="#s48" x="149" y="0"/>
<use href="#s52" x="161" y="0"/>
<use href="#s48" x="167" y="0"/>
<use href="#s46" x="173" y="0"/>
<use href="#s48" x="179" y="0"/>
<use href="#s57" x="196" y="0"/>
<use href="#s48" x="202" y="0"/>
<use href="#s46" x="208" y="0"/>
<use href="#s48" x="214" y="0"/>
<use href="#s49" x="226" y="0"/>
<use href="#s51" x="232" y="0"/>
<use href="#s48" x="238" y="0"/>
<use href="#s49" x="253" y="0"/>
<use href="#s55" x="259" y="0"/>
<use href="#s48" x="265" y="0"/>
<use href="#s50" x="281" y="0"/>
<use href="#s49" x="287" y="0"/>
<use href="#s48" x="293" y="0"/>
<use href="#s50" x="308" y="0"/>
<use href="#s53" x="314" y="0"/>
<use href="#s48" x="320" y="0"/>
<use href="#s50" x="335" y="0"/>
<use href="#s57" x="341" y="0"/>
<use href="#s48" x="347" y="0"/>
<use href="#s51" x="363" y="0"/>
<use href="#s51" x="369" y="0"/>
<use href="#s48" x="375" y="0"/>
<use href="#s51" x="390" y="0"/>
<use href="#s55" x="396" y="0"/>
<use href="#s48" x="402" y="0"/>
<use href="#s52" x="417" y="0"/>
<use href="#s49" x="423" y="0"/>
<use href="#s48" x="429" y="0"/>
<use href="#s52" x="445" y="0"/>
<use href="#s53" x="451" y="0"/>
<use href="#s48" x="457" y="0"/>
<use href="#s52" x="472" y="0"/>
<use href="#s57" x="478" y="0"/>
<use href="#s48" x="484" y="0"/>
<use href="#s53" x="499" y="0"/>
<use href="#s51" x="505" y="0"/>
<use href="#s48" x="511" y="0"/>
<use href="#s53" x="527" y="0"/>
<use href="#s55" x="533" y="0"/>
<use href="#s48" x="539" y="0"/>
<use href="#s54" x="554" y="0"/>
<use href="#s49" x="560" y="0"/>
<use href="#s48" x="566" y="0"/>
<use href="#s54" x="581" y="0"/>
<use href="#s53" x="587" y="0"/>
<use href="#s48" x="593" y="0"/>
<use href="#s54" x="609" y="0"/>
<use href="#s57" x="615" y="0"/>
<use href="#s48" x="621" y="0"/>
<use href="#s55" x="636" y="0"/>
<use href="#s51" x="642" y="0"/>
<use href="#s48" x="648" y="0"/>
<use href="#s55" x="663" y="0"/>
<use href="#s55" x="669" y="0"/>
<use href="#s48" x="675" y="0"/>
<use href="#s56" x="691" y="0"/>
<use href="#s49" x="697" y="0"/>
<use href="#s48" x="703" y="0"/>
<use href="#s56" x="718" y="0"/>
<use href="#s53" x="724" y="0"/>
<use href="#s48" x="730" y="0"/>
<use href="#s56" x="745" y="0"/>
<use href="#s57" x="751" y="0"/>
<use href="#s48" x="757" y="0"/>
<use href="#s57" x="775" y="0"/>
<use href="#s53" x="781" y="0"/>
<use href="#s48" x="787" y="0"/>
<use href="#b67" x="101" y="3"/>
<use href="#b111" x="108" y="3"/>
<use href="#b112" x="115" y="3"/>
<use href="#b105" x="122" y="3"/>
<use href="#b101" x="129" y="3"/>
<use href="#b115" x="136" y="3"/>
<use href="#b52" x="24" y="36"/>
<use href="#b49" x="31" y="36"/>
<use href="#b48" x="38" y="36"/>
<use href="#b46" x="45" y="36"/>
<use href="#b98" x="52" y="36"/>
<use href="#b119" x="59" y="36"/>
<use href="#b97" x="66" y="36"/>
<use href="#b118" x="73" y="36"/>
<use href="#b101" x="80" y="36"/>
<use href="#b115" x="87" y="36"/>
<use href="#b51" x="118" y="46"/>
<use href="#b50" x="125" y="46"/>
<use href="#s52" x="413" y="54"/>
<use href="#s48" x="419" y="54"/>
<use href="#s51" x="425" y="54"/>
<use href="#b49" x="118" y="28" fill="#2525b0"/>
<use href="#b54" x="125" y="28" fill="#2525b0"/>
<use href="#s52" x="418" y="20" fill="#2525b0"/>
<use href="#s49" x="424" y="20" fill="#2525b0"/>
<use href="#s50" x="430" y="20" fill="#2525b0"/>
<use href="#b52" x="24" y="81"/>
<use href="#b49" x="31" y="81"/>
<use href="#b54" x="38" y="81"/>
<use href="#b46" x="45" y="81"/>
<use href="#b103" x="52" y="81"/>
<use href="#b97" x="59" y="81"/>
<use href="#b109" x="66" y="81"/>
<use href="#b101" x="73" y="81"/>
<use href="#b115" x="80" y="81"/>
<use href="#b115" x="87" y="81"/>
<use href="#b51" x="118" y="91"/>
<use href="#b50" x="125" y="91"/>
<use href="#s53" x="513" y="99"/>
<use href="#s52" x="519" y="99"/>
<use href="#s57" x="525" y="99"/>
<use href="#b51" x="118" y="73" fill="#2525b0"/>
<use href="#b50" x="125" y="73" fill="#2525b0"/>
<use href="#s53" x="522" y="65" fill="#2525b0"/>
<use href="#s54" x="528" y="65" fill="#2525b0"/>
<use href="#s51" x="534" y="65" fill="#2525b0"/>
<use href="#b52" x="38" y="126"/>
<use href="#b51" x="45" y="126"/>
<use href="#b51" x="52" y="126"/>
<use href="#b46" x="59" y="126"/>
<use href="#b109" x="66" y="126"/>
<use href="#b105" x="73" y="126"/>
<use href="#b108" x="80" y="126"/>
<use href="#b99" x="87" y="126"/>
<use href="#b51" x="118" y="136"/>
<use href="#b50" x="125" y="136"/>
<use href="#s51" x="398" y="144"/>
<use href="#s56" x="404" y="144"/>
<use href="#s50" x="410" y="144"/>
<use href="#b51" x="118" y="118" fill="#2525b0"/>
<use href="#b50" x="125" y="118" fill="#2525b0"/>
<use href="#s51" x="399" y="110" fill="#2525b0"/>
<use href="#s56" x="405" y="110" fill="#2525b0"/>
<use href="#s51" x="411" y="110" fill="#2525b0"/>
<use href="#b52" x="24" y="171"/>
<use href="#b51" x="31" y="171"/>
<use href="#b52" x="38" y="171"/>
<use href="#b46" x="45" y="171"/>
<use href="#b122" x="52" y="171"/>
<use href="#b101" x="59" y="171"/>
<use href="#b117" x="66" y="171"/>
<use href="#b115" x="73" y="171"/>
<use href="#b109" x="80" y="171"/>
<use href="#b112" x="87" y="171"/>
<use href="#b51" x="118" y="181"/>
<use href="#b50" x="125" y="181"/>
<use href="#s53" x="513" y="189"/>
<use href="#s53" x="519" y="189"/>
<use href="#s49" x="525" y="189"/>
<use href="#b54" x="118" y="163" fill="#2525b0"/>
<use href="#b52" x="125" y="163" fill="#2525b0"/>
<use href="#s53" x="537" y="155" fill="#2525b0"/>
<use href="#s56" x="543" y="155" fill="#2525b0"/>
<use href="#s53" x="549" y="155" fill="#2525b0"/>
<use href="#b52" x="17" y="216"/>
<use href="#b51" x="24" y="216"/>
<use href="#b53" x="31" y="216"/>
<use href="#b46" x="38" y="216"/>
<use href="#b103" x="45" y="216"/>
<use href="#b114" x="52" y="216"/>
<use href="#b111" x="59" y="216"/>
<use href="#b109" x="66" y="216"/>
<use href="#b97" x="73" y="216"/>
<use href="#b99" x="80" y="216"/>
<use href="#b115" x="87" y="216"/>
<use href="#b51" x="118" y="226"/>
<use href="#b50" x="125" y="226"/>
<use href="#s52" x="440" y="234"/>
<use href="#s53" x="446" y="234"/>
<use href="#s54" x="452" y="234"/>
<use href="#b54" x="118" y="208" fill="#2525b0"/>
<use href="#b52" x="125" y="208" fill="#2525b0"/>
<use href="#s53" x="489" y="200" fill="#2525b0"/>
<use href="#s49" x="495" y="200" fill="#2525b0"/>
<use href="#s51" x="501" y="200" fill="#2525b0"/>
<use href="#b52" x="3" y="261"/>
<use href="#b51" x="10" y="261"/>
<use href="#b54" x="17" y="261"/>
<use href="#b46" x="24" y="261"/>
<use href="#b99" x="31" y="261"/>
<use href="#b97" x="38" y="261"/>
<use href="#b99" x="45" y="261"/>
<use href="#b116" x="52" y="261"/>
<use href="#b117" x="59" y="261"/>
<use href="#b115" x="66" y="261"/>
<use href="#b65" x="73" y="261"/>
<use href="#b68" x="80" y="261"/>
<use href="#b77" x="87" y="261"/>
<use href="#b51" x="118" y="271"/>
<use href="#b50" x="125" y="271"/>
<use href="#s52" x="437" y="279"/>
<use href="#s51" x="443" y="279"/>
<use href="#s57" x="449" y="279"/>
<use href="#b51" x="118" y="253" fill="#2525b0"/>
<use href="#b50" x="125" y="253" fill="#2525b0"/>
<use href="#s53" x="498" y="245" fill="#2525b0"/>
<use href="#s50" x="504" y="245" fill="#2525b0"/>
<use href="#s56" x="510" y="245" fill="#2525b0"/>
<use href="#b52" x="10" y="306"/>
<use href="#b51" x="17" y="306"/>
<use href="#b55" x="24" y="306"/>
<use href="#b46" x="31" y="306"/>
<use href="#b108" x="38" y="306"/>
<use href="#b101" x="45" y="306"/>
<use href="#b115" x="52" y="306"/>
<use href="#b108" x="59" y="306"/>
<use href="#b105" x="66" y="306"/>
<use href="#b101" x="73" y="306"/>
<use href="#b51" x="80" y="306"/>
<use href="#b100" x="87" y="306"/>
<use href="#b51" x="118" y="316"/>
<use href="#b50" x="125" y="316"/>
<use href="#s50" x="330" y="324"/>
<use href="#s56" x="336" y="324"/>
<use href="#s51" x="342" y="324"/>
<use href="#b49" x="118" y="298" fill="#2525b0"/>
<use href="#b54" x="125" y="298" fill="#2525b0"/>
<use href="#s51" x="342" y="290" fill="#2525b0"/>
<use href="#s48" x="348" y="290" fill="#2525b0"/>
<use href="#s48" x="354" y="290" fill="#2525b0"/>
<use href="#b52" x="38" y="351"/>
<use href="#b52" x="45" y="351"/>
<use href="#b52" x="52" y="351"/>
<use href="#b46" x="59" y="351"/>
<use href="#b110" x="66" y="351"/>
<use href="#b97" x="73" y="351"/>
<use href="#b109" x="80" y="351"/>
<use href="#b100" x="87" y="351"/>
<use href="#b51" x="118" y="361"/>
<use href="#b50" x="125" y="361"/>
<use href="#s52" x="438" y="369"/>
<use href="#s52" x="444" y="369"/>
<use href="#s49" x="450" y="369"/>
<use href="#b54" x="118" y="343" fill="#2525b0"/>
<use href="#b52" x="125" y="343" fill="#2525b0"/>
<use href="#s52" x="440" y="335" fill="#2525b0"/>
<use href="#s53" x="446" y="335" fill="#2525b0"/>
<use href="#s53" x="452" y="335" fill="#2525b0"/>
<use href="#b52" x="24" y="396"/>
<use href="#b52" x="31" y="396"/>
<use href="#b55" x="38" y="396"/>
<use href="#b46" x="45" y="396"/>
<use href="#b100" x="52" y="396"/>
<use href="#b101" x="59" y="396"/>
<use href="#b97" x="66" y="396"/>
<use href="#b108" x="73" y="396"/>
<use href="#b73" x="80" y="396"/>
<use href="#b73" x="87" y="396"/>
<use href="#b51" x="118" y="406"/>
<use href="#b50" x="125" y="406"/>
<use href="#s56" x="738" y="414"/>
<use href="#s55" x="744" y="414"/>
<use href="#s57" x="750" y="414"/>
<use href="#b54" x="118" y="388" fill="#2525b0"/>
<use href="#b52" x="125" y="388" fill="#2525b0"/>
<use href="#s57" x="774" y="380" fill="#2525b0"/>
<use href="#s51" x="780" y="380" fill="#2525b0"/>
<use href="#s56" x="786" y="380" fill="#2525b0"/>
<use href="#b52" x="24" y="441"/>
<use href="#b53" x="31" y="441"/>
<use href="#b48" x="38" y="441"/>
<use href="#b46" x="45" y="441"/>
<use href="#b115" x="52" y="441"/>
<use href="#b111" x="59" y="441"/>
<use href="#b112" x="66" y="441"/>
<use href="#b108" x="73" y="441"/>
<use href="#b101" x="80" y="441"/>
<use href="#b120" x="87" y="441"/>
<use href="#b51" x="118" y="451"/>
<use href="#b50" x="125" y="451"/>
<use href="#s50" x="339" y="459"/>
<use href="#s57" x="345" y="459"/>
<use href="#s53" x="351" y="459"/>
<use href="#b51" x="118" y="433" fill="#2525b0"/>
<use href="#b50" x="125" y="433" fill="#2525b0"/>
<use href="#s51" x="362" y="425" fill="#2525b0"/>
<use href="#s50" x="368" y="425" fill="#2525b0"/>
<use href="#s57" x="374" y="425" fill="#2525b0"/>
<use href="#b52" x="24" y="486"/>
<use href="#b53" x="31" y="486"/>
<use href="#b51" x="38" y="486"/>
<use href="#b46" x="45" y="486"/>
<use href="#b112" x="52" y="486"/>
<use href="#b111" x="59" y="486"/>
<use href="#b118" x="66" y="486"/>
<use href="#b114" x="73" y="486"/>
<use href="#b97" x="80" y="486"/>
<use href="#b121" x="87" y="486"/>
<use href="#b51" x="118" y="496"/>
<use href="#b50" x="125" y="496"/>
<use href="#s54" x="579" y="504"/>
<use href="#s52" x="585" y="504"/>
<use href="#s55" x="591" y="504"/>
<use href="#b51" x="118" y="478" fill="#2525b0"/>
<use href="#b50" x="125" y="478" fill="#2525b0"/>
<use href="#s56" x="701" y="470" fill="#2525b0"/>
<use href="#s50" x="707" y="470" fill="#2525b0"/>
<use href="#s54" x="713" y="470" fill="#2525b0"/>
<use href="#b52" x="10" y="531"/>
<use href="#b53" x="17" y="531"/>
<use href="#b52" x="24" y="531"/>
<use href="#b46" x="31" y="531"/>
<use href="#b99" x="38" y="531"/>
<use href="#b97" x="45" y="531"/>
<use href="#b108" x="52" y="531"/>
<use href="#b99" x="59" y="531"/>
<use href="#b117" x="66" y="531"/>
<use href="#b108" x="73" y="531"/>
<use href="#b105" x="80" y="531"/>
<use href="#b120" x="87" y="531"/>
<use href="#b51" x="118" y="541"/>
<use href="#b50" x="125" y="541"/>
<use href="#s55" x="635" y="549"/>
<use href="#s50" x="641" y="549"/>
<use href="#s57" x="647" y="549"/>
<use href="#b51" x="118" y="523" fill="#2525b0"/>
<use href="#b50" x="125" y="523" fill="#2525b0"/>
<use href="#s55" x="643" y="515" fill="#2525b0"/>
<use href="#s52" x="649" y="515" fill="#2525b0"/>
<use href="#s48" x="655" y="515" fill="#2525b0"/>
<use href="#b52" x="10" y="576"/>
<use href="#b53" x="17" y="576"/>
<use href="#b57" x="24" y="576"/>
<use href="#b46" x="31" y="576"/>
<use href="#b71" x="38" y="576"/>
<use href="#b101" x="45" y="576"/>
<use href="#b109" x="52" y="576"/>
<use href="#b115" x="59" y="576"/>
<use href="#b70" x="66" y="576"/>
<use href="#b68" x="73" y="576"/>
<use href="#b84" x="80" y="576"/>
<use href="#b68" x="87" y="576"/>
<use href="#b51" x="118" y="586"/>
<use href="#b50" x="125" y="586"/>
<use href="#s50" x="303" y="594"/>
<use href="#s52" x="309" y="594"/>
<use href="#s51" x="315" y="594"/>
<use href="#b49" x="118" y="568" fill="#2525b0"/>
<use href="#b54" x="125" y="568" fill="#2525b0"/>
<use href="#s50" x="315" y="560" fill="#2525b0"/>
<use href="#s54" x="321" y="560" fill="#2525b0"/>
<use href="#s49" x="327" y="560" fill="#2525b0"/>
<use href="#b52" x="31" y="621"/>
<use href="#b54" x="38" y="621"/>
<use href="#b53" x="45" y="621"/>
<use href="#b46" x="52" y="621"/>
<use href="#b116" x="59" y="621"/>
<use href="#b111" x="66" y="621"/>
<use href="#b110" x="73" y="621"/>
<use href="#b116" x="80" y="621"/>
<use href="#b111" x="87" y="621"/>
<use href="#b51" x="118" y="631"/>
<use href="#b50" x="125" y="631"/>
<use href="#s53" x="506" y="639"/>
<use href="#s52" x="512" y="639"/>
<use href="#s48" x="518" y="639"/>
<use href="#b54" x="118" y="613" fill="#2525b0"/>
<use href="#b52" x="125" y="613" fill="#2525b0"/>
<use href="#s54" x="579" y="605" fill="#2525b0"/>
<use href="#s52" x="585" y="605" fill="#2525b0"/>
<use href="#s55" x="591" y="605" fill="#2525b0"/>
<use href="#b52" x="45" y="666"/>
<use href="#b55" x="52" y="666"/>
<use href="#b48" x="59" y="666"/>
<use href="#b46" x="66" y="666"/>
<use href="#b108" x="73" y="666"/>
<use href="#b98" x="80" y="666"/>
<use href="#b109" x="87" y="666"/>
<use href="#b51" x="118" y="667"/>
<use href="#b50" x="125" y="667"/>
<use href="#s53" x="489" y="655"/>
<use href="#s49" x="495" y="655"/>
<use href="#s51" x="501" y="655"/>
<use href="#b52" x="45" y="711"/>
<use href="#b56" x="52" y="711"/>
<use href="#b49" x="59" y="711"/>
<use href="#b46" x="66" y="711"/>
<use href="#b119" x="73" y="711"/>
<use href="#b114" x="80" y="711"/>
<use href="#b102" x="87" y="711"/>
<use href="#b51" x="118" y="721"/>
<use href="#b50" x="125" y="721"/>
<use href="#s52" x="464" y="729"/>
<use href="#s55" x="470" y="729"/>
<use href="#s54" x="476" y="729"/>
<use href="#b54" x="118" y="703" fill="#2525b0"/>
<use href="#b52" x="125" y="703" fill="#2525b0"/>
<use href="#s52" x="465" y="695" fill="#2525b0"/>
<use href="#s55" x="471" y="695" fill="#2525b0"/>
<use href="#s57" x="477" y="695" fill="#2525b0"/>
<use href="#b52" x="17" y="756"/>
<use href="#b56" x="24" y="756"/>
<use href="#b50" x="31" y="756"/>
<use href="#b46" x="38" y="756"/>
<use href="#b115" x="45" y="756"/>
<use href="#b112" x="52" y="756"/>
<use href="#b104" x="59" y="756"/>
<use href="#b105" x="66" y="756"/>
<use href="#b110" x="73" y="756"/>
<use href="#b120" x="80" y="756"/>
<use href="#b51" x="87" y="756"/>
<use href="#b51" x="118" y="766"/>
<use href="#b50" x="125" y="766"/>
<use href="#s52" x="427" y="774"/>
<use href="#s50" x="433" y="774"/>
<use href="#s52" x="439" y="774"/>
<use href="#b51" x="118" y="748" fill="#2525b0"/>
<use href="#b50" x="125" y="748" fill="#2525b0"/>
<use href="#s52" x="440" y="740" fill="#2525b0"/>
<use href="#s54" x="446" y="740" fill="#2525b0"/>
<use href="#s49" x="452" y="740" fill="#2525b0"/>
<use href="#b83" x="300" y="788"/>
<use href="#b80" x="307" y="788"/>
<use href="#b69" x="314" y="788"/>
<use href="#b67" x="321" y="788"/>
<use href="#b102" x="328" y="788"/>
<use href="#b112" x="335" y="788"/>
<use href="#b95" x="342" y="788"/>
<use href="#b114" x="349" y="788"/>
<use href="#b97" x="356" y="788"/>
<use href="#b116" x="363" y="788"/>
<use href="#b101" x="370" y="788"/>
<use href="#b95" x="377" y="788"/>
<use href="#b98" x="384" y="788"/>
<use href="#b97" x="391" y="788"/>
<use href="#b115" x="398" y="788"/>
<use href="#b101" x="405" y="788"/>
<use href="#b50" x="412" y="788"/>
<use href="#b48" x="419" y="788"/>
<use href="#b48" x="426" y="788"/>
<use href="#b54" x="433" y="788"/>
<use href="#b61" x="447" y="788"/>
<use href="#b52" x="461" y="788"/>
<use href="#b54" x="468" y="788"/>
<use href="#b49" x="475" y="788"/>
<use href="#b83" x="412" y="810" fill="#2525b0"/>
<use href="#b80" x="419" y="810" fill="#2525b0"/>
<use href="#b69" x="426" y="810" fill="#2525b0"/>
<use href="#b67" x="433" y="810" fill="#2525b0"/>
<use href="#b102" x="440" y="810" fill="#2525b0"/>
<use href="#b112" x="447" y="810" fill="#2525b0"/>
<use href="#b95" x="454" y="810" fill="#2525b0"/>
<use href="#b114" x="461" y="810" fill="#2525b0"/>
<use href="#b97" x="468" y="810" fill="#2525b0"/>
<use href="#b116" x="475" y="810" fill="#2525b0"/>
<use href="#b101" x="482" y="810" fill="#2525b0"/>
<use href="#b50" x="489" y="810" fill="#2525b0"/>
<use href="#b48" x="496" y="810" fill="#2525b0"/>
<use href="#b48" x="503" y="810" fill="#2525b0"/>
<use href="#b54" x="510" y="810" fill="#2525b0"/>
<use href="#b61" x="524" y="810" fill="#2525b0"/>
<use href="#b52" x="538" y="810" fill="#2525b0"/>
<use href="#b57" x="545" y="810" fill="#2525b0"/>
<use href="#b55" x="552" y="810" fill="#2525b0"/>
</svg></body></html>
